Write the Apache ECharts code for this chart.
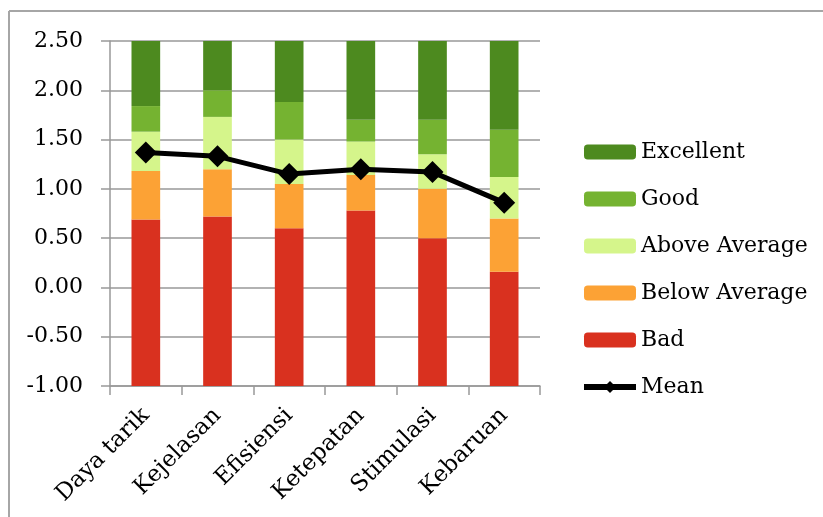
<!DOCTYPE html>
<html>
<head>
<meta charset="utf-8">
<script src="https://cdn.jsdelivr.net/npm/echarts@6/dist/echarts.min.js"></script>
<style>
  html, body { margin: 0; padding: 0; background: #fff; }
  #chart { width: 823px; height: 517px; }
</style>
</head>
<body>
<div id="chart"></div>
<script>
// UEQ benchmark chart
const categories = ['Daya tarik', 'Kejelasan', 'Efisiensi', 'Ketepatan', 'Stimulasi', 'Kebaruan']

// upper limits of each benchmark band
const badTop = [0.69, 0.72, 0.60, 0.78, 0.50, 0.16]
const belowAverageTop = [1.18, 1.20, 1.05, 1.14, 1.00, 0.70]
const aboveAverageTop = [1.58, 1.73, 1.50, 1.48, 1.35, 1.12]
const goodTop = [1.84, 2.00, 1.88, 1.70, 1.70, 1.60]
const excellentTop = [2.50, 2.50, 2.50, 2.50, 2.50, 2.50]

const meanValues = [1.37, 1.33, 1.15, 1.20, 1.17, 0.86]

const yTicks = [-1.00, -0.50, 0.00, 0.50, 1.00, 1.50, 2.00, 2.50]

const FONT = 'DejaVu Serif'
const yMin = yTicks[0]
const yMax = yTicks[yTicks.length - 1]

function bandHeights(upper, lower) {
  return upper.map((u, i) => +(u - lower[i]).toFixed(4))
}

const baseLine = categories.map(() => yMin)

const bands = [
  { name: 'Bad', color: '#d9311f', data: bandHeights(badTop, baseLine) },
  { name: 'Below Average', color: '#fca235', data: bandHeights(belowAverageTop, badTop) },
  { name: 'Above Average', color: '#d5f58b', data: bandHeights(aboveAverageTop, belowAverageTop) },
  { name: 'Good', color: '#75b331', data: bandHeights(goodTop, aboveAverageTop) },
  { name: 'Excellent', color: '#4d8a1f', data: bandHeights(excellentTop, goodTop) },
]

const chart = echarts.init(document.getElementById('chart'))

const barSeries = bands.map((b) => ({
  name: b.name,
  type: 'bar',
  stack: 'ueq',
  stackStrategy: 'all',
  barWidth: '40%',
  itemStyle: { color: b.color },
  data: b.data,
}))

const frameStyle = { stroke: '#a6a6a6', lineWidth: 2 }

chart.setOption({
  animation: false,
  // chart frame: only its left and top edges are inside the picture
  graphic: [
    { type: 'line', shape: { x1: 9, y1: 11, x2: 823, y2: 11 }, style: frameStyle, silent: true },
    { type: 'line', shape: { x1: 9, y1: 11, x2: 9, y2: 517 }, style: frameStyle, silent: true },
  ],
  grid: {
    left: 110,
    right: 283,
    top: 41,
    bottom: 131,
  },
  legend: {
    orient: 'vertical',
    left: 581,
    top: 140,
    padding: 0,
    itemWidth: 52,
    itemHeight: 15,
    itemGap: 23,
    data: [
      'Excellent', 'Good', 'Above Average', 'Below Average', 'Bad',
      { name: 'Mean', lineStyle: { width: 6 } },
    ],
    textStyle: { fontFamily: FONT, fontSize: 22, color: '#000', lineHeight: 24 },
  },
  xAxis: {
    type: 'category',
    data: categories,
    axisLine: { onZero: false, lineStyle: { color: '#999', width: 1.5 } },
    axisTick: { show: true, length: 9, lineStyle: { color: '#999', width: 1.5 } },
    axisLabel: {
      rotate: 45,
      margin: 26,
      fontFamily: FONT,
      fontSize: 23,
      color: '#000',
    },
  },
  yAxis: {
    type: 'value',
    min: yMin,
    max: yMax,
    interval: 0.5,
    axisLine: { show: true, lineStyle: { color: '#999', width: 1.5 } },
    axisTick: { show: true, length: 9, lineStyle: { color: '#999', width: 1.5 } },
    splitLine: { lineStyle: { color: '#999', width: 1.5 } },
    axisLabel: {
      margin: 27,
      fontFamily: FONT,
      fontSize: 22,
      color: '#000',
      formatter: (v) => v.toFixed(2),
    },
  },
  series: [
    {
      name: 'base',
      type: 'bar',
      stack: 'ueq',
      stackStrategy: 'all',
      barWidth: '40%',
      itemStyle: { color: 'rgba(0,0,0,0)' },
      data: baseLine,
      silent: true,
    },
    ...barSeries,
    {
      name: 'Mean',
      type: 'line',
      z: 10,
      data: meanValues,
      symbol: 'diamond',
      symbolSize: 22,
      itemStyle: { color: '#000' },
      lineStyle: { color: '#000', width: 5 },
    },
  ],
})
</script>
</body>
</html>
